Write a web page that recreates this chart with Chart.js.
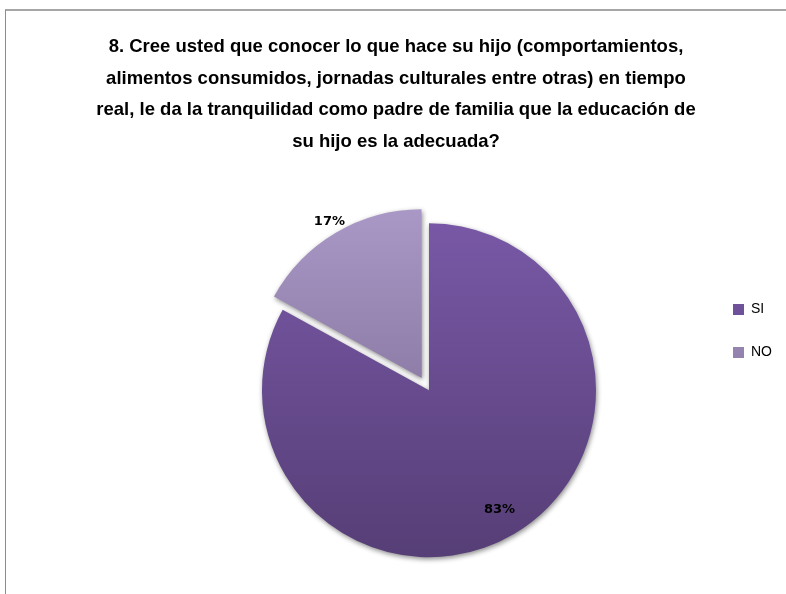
<!DOCTYPE html>
<html>
<head>
<meta charset="utf-8">
<script src="https://cdn.jsdelivr.net/npm/chart.js@4.4.0/dist/chart.umd.min.js"></script>
<style>
  body { margin: 0; background: #fff; }
  #marco { position: absolute; left: 5px; top: 9px; width: 800px; height: 600px; border-top: 2px solid #a6a6a6; border-left: 1px solid #8c8c8c; }
  #caja { position: absolute; left: 0; top: 0; width: 786px; height: 594px; }
</style>
</head>
<body>
<div id="marco"></div>
<div id="caja"><canvas id="grafico"></canvas></div>
<script>
var categorias = ['SI', 'NO'];
var porcentajes = [83, 17];
var titulo = [
    '8. Cree usted que conocer lo que hace su hijo (comportamientos,',
    'alimentos consumidos, jornadas culturales entre otras) en tiempo',
    'real, le da la tranquilidad como padre de familia que la educación de',
    'su hijo es la adecuada?'
];

var coloresClaros = ['#7858a6', '#b19fcf'];
var coloresOscuros = ['#563e76', '#7b6b92'];
var desplazamientos = [0, 57];
var radio = 167;
var fuente = "'Liberation Sans', Arial, sans-serif";

// degradado vertical de cada porcion, de claro arriba a oscuro abajo
function degradado(context) {
    var chart = context.chart;
    var area = chart.chartArea;
    var i = context.dataIndex;
    if (!area) return coloresClaros[i];
    var total = 0, antes = 0;
    for (var k = 0; k < porcentajes.length; k++) {
        total += porcentajes[k];
        if (k < i) antes += porcentajes[k];
    }
    var medio = -Math.PI / 2 + 2 * Math.PI * (antes + porcentajes[i] / 2) / total;
    var cy = (area.top + area.bottom) / 2 + Math.sin(medio) * desplazamientos[i];
    var g = chart.ctx.createLinearGradient(0, cy - radio, 0, cy + radio);
    g.addColorStop(0, coloresClaros[i]);
    g.addColorStop(1, coloresOscuros[i]);
    return g;
}

// deja libre el lado izquierdo para que el pastel quede a la derecha del centro
var areaPastel = {
    id: 'areaPastel',
    afterLayout: function(chart, args, opts) {
        chart.chartArea.left += opts.izquierda;
        chart.chartArea.width -= opts.izquierda;
    }
};

// sombra suave bajo las porciones y etiquetas de porcentaje
var etiquetas = {
    id: 'etiquetas',
    beforeDatasetsDraw: function(chart) {
        var ctx = chart.ctx;
        ctx.save();
        ctx.shadowColor = 'rgba(0,0,0,0.45)';
        ctx.shadowBlur = 5;
        ctx.shadowOffsetX = 1;
        ctx.shadowOffsetY = 2;
    },
    afterDatasetsDraw: function(chart) {
        var ctx = chart.ctx;
        ctx.restore();
        var meta = chart.getDatasetMeta(0);
        ctx.save();
        ctx.font = 'bold 13px "DejaVu Sans"';
        ctx.fillStyle = '#000';
        ctx.textAlign = 'center';
        ctx.textBaseline = 'middle';
        meta.data.forEach(function(arco, i) {
            var p = arco.getProps(['x', 'y', 'startAngle', 'endAngle', 'outerRadius']);
            var medio = (p.startAngle + p.endAngle) / 2;
            var d = (arco.options.offset || 0) + p.outerRadius * 0.83;
            ctx.fillText(porcentajes[i] + '%', p.x + Math.cos(medio) * d, p.y + Math.sin(medio) * d);
        });
        ctx.restore();
    }
};

new Chart(document.getElementById('grafico'), {
    type: 'pie',
    data: {
        labels: categorias,
        datasets: [{
            data: porcentajes,
            backgroundColor: degradado,
            borderWidth: 0,
            offset: desplazamientos,
            radius: radio,
            clip: false
        }]
    },
    options: {
        responsive: true,
        maintainAspectRatio: false,
        animation: false,
        layout: { padding: { top: 10, left: 10, right: 4, bottom: 87 } },
        plugins: {
            title: {
                display: true,
                text: titulo,
                color: '#000',
                font: { family: fuente, size: 18.5, weight: 'bold', lineHeight: 1.71 },
                padding: { top: 21, bottom: 116 }
            },
            legend: {
                position: 'right',
                align: 'start',
                fullSize: false,
                labels: {
                    color: '#000',
                    font: { family: fuente, size: 14 },
                    boxWidth: 11,
                    boxHeight: 11,
                    padding: 29
                }
            },
            tooltip: { enabled: false },
            areaPastel: { izquierda: 144 }
        }
    },
    plugins: [areaPastel, etiquetas]
});
</script>
</body>
</html>
